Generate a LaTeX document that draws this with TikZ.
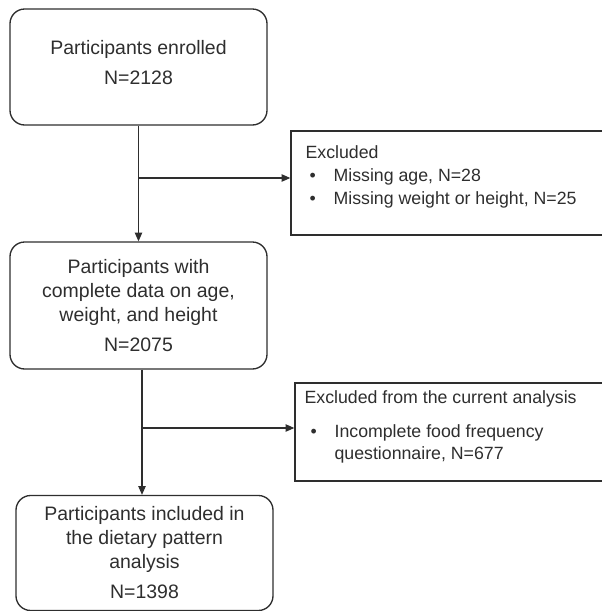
\documentclass[tikz,border=0pt]{standalone}
\usepackage{fontspec}
\setmainfont{Liberation Sans}
\usepackage{tikz}
\usetikzlibrary{arrows.meta,positioning,calc}
\definecolor{FlowInk}{HTML}{2E2E2E}
\newcommand{\flowbullet}[1]{\hspace*{#1}\makebox[18pt][l]{\textbullet}}

\begin{document}
\begin{tikzpicture}[x=0.75pt,y=-0.75pt,
  stage/.style={draw=FlowInk, line width=1pt, rounded corners=11pt, minimum width=192.75pt, align=center, text=FlowInk, font=\fontsize{14.6}{18}\selectfont},
  exclbox/.style={draw=FlowInk, line width=1pt, inner sep=0pt},
  excltext/.style={anchor=north west, align=left, inner sep=0pt, text=FlowInk, font=\fontsize{13.3}{17.2}\selectfont},
  flow/.style={draw=FlowInk, line width=0.8pt, -{Triangle[length=6.5pt,width=5.5pt]}}]
  \useasboundingbox (0,0) rectangle (601,611);
  % main stages
  \node[stage, minimum height=87pt, text depth=7.5pt] (enrolled) at (138.5,67) {Participants enrolled\\[4.5pt]N=2128};
  \node[stage, minimum height=95.25pt] (complete) at (138.5,305.5) {Participants with\\complete data on age,\\weight, and height\\[4.5pt]N=2075};
  \node[stage, minimum height=86.25pt] (included) at (144.5,553) {Participants included in\\the dietary pattern\\analysis\\[4.5pt]N=1398};
  % exclusions
  \node[exclbox, minimum width=234pt, minimum height=78pt] (excl1) at (447,183) {};
  \node[excltext] (excl1txt) at ([shift={(15,15)}]excl1.north west) {Excluded\\\flowbullet{3pt}Missing age, N=28\\\flowbullet{3pt}Missing weight or height, N=25};
  \node[exclbox, minimum width=231pt, minimum height=73.5pt] (excl2) at (449,432) {};
  \node[excltext] (excl2txt) at ([shift={(10,8)}]excl2.north west) {Excluded from the current analysis\\[8pt]\flowbullet{4.5pt}Incomplete food frequency\\\hspace*{22.5pt}questionnaire, N=677};
  % connectors
  \coordinate (split1) at (138,178);
  \coordinate (split2) at (142,428);
  \draw[flow] (enrolled.south) -- (complete.north);
  \draw[flow] (split1) -- (split1 -| excl1.west);
  \draw[flow] (split2 |- complete.south) -- (split2 |- included.north);
  \draw[flow] (split2) -- (split2 -| excl2.west);
\end{tikzpicture}
\end{document}
